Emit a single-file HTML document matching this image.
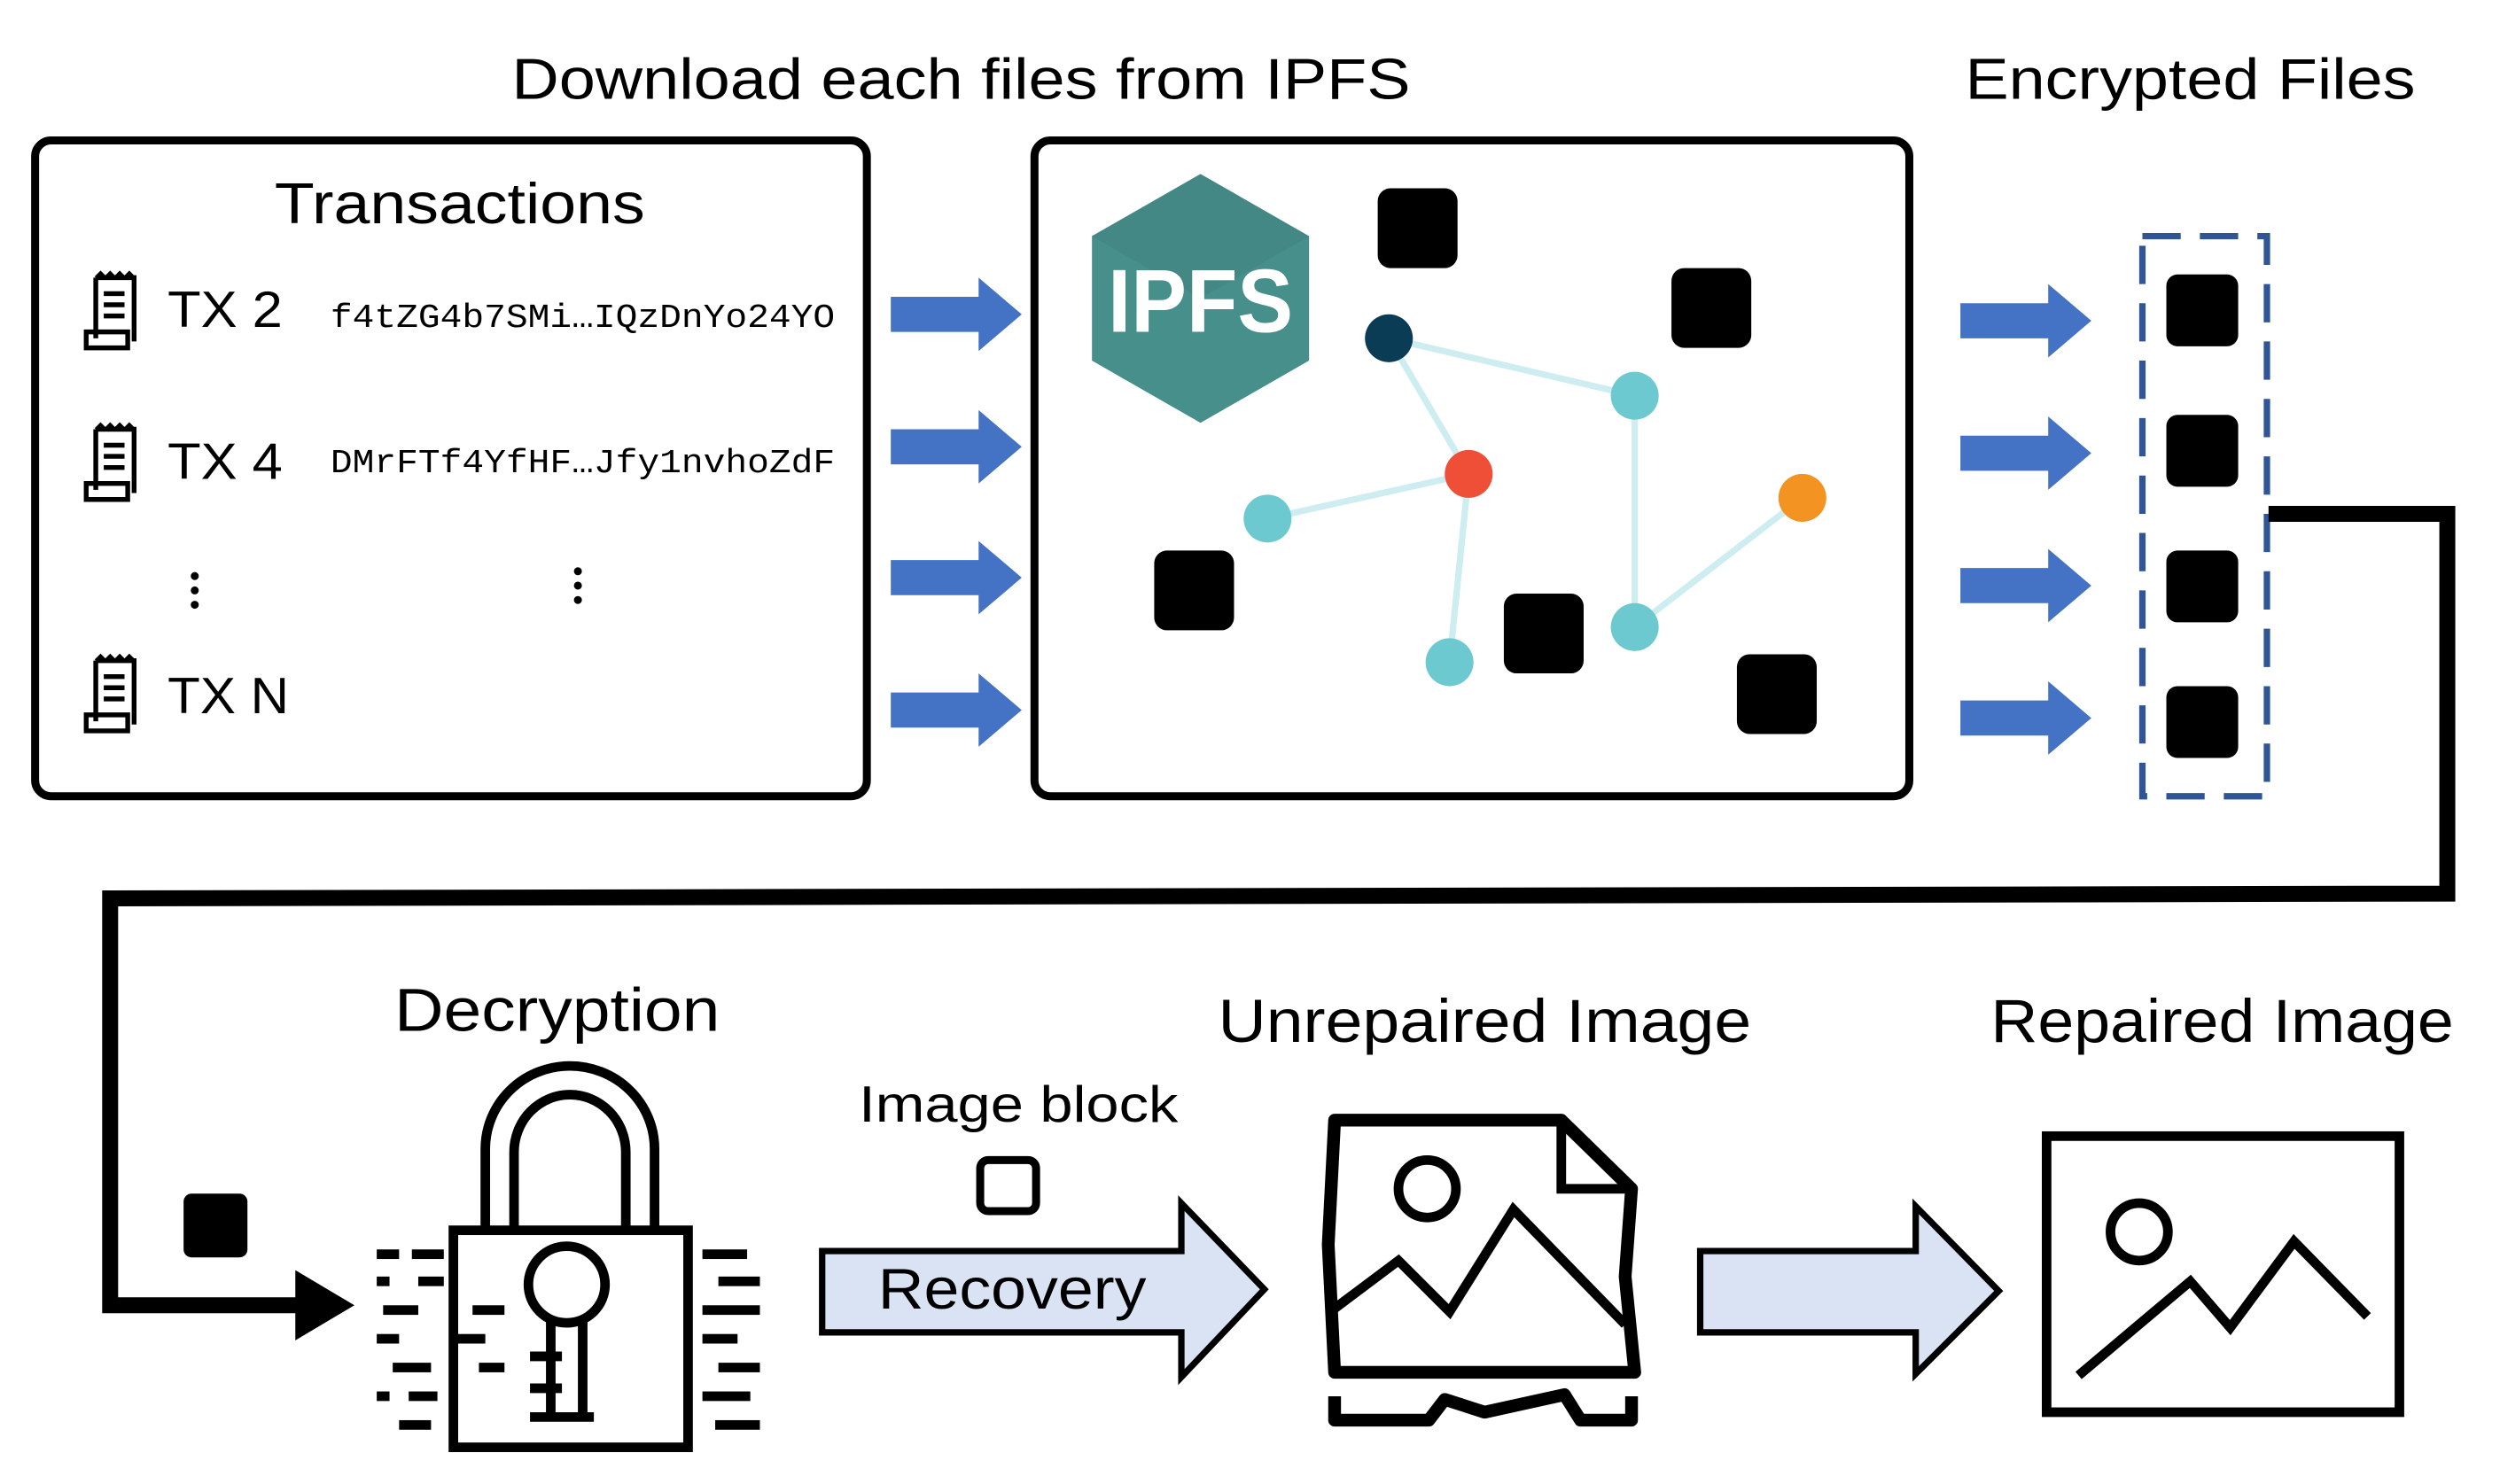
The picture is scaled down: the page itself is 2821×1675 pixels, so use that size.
<!DOCTYPE html>
<html><head><meta charset="utf-8"><style>html,body{margin:0;padding:0;background:#fff}svg{display:block}</style></head>
<body>
<svg width="2821" height="1675" viewBox="0 0 1566 930" preserveAspectRatio="none" xmlns="http://www.w3.org/2000/svg" font-family="Liberation Sans, sans-serif">
<rect width="1566" height="930" fill="#fff"/>
<defs>
<g id="ba"><polygon points="0,-11 55,-11 55,-23 82,0 55,23 55,11 0,11" fill="#4472C4"/></g>
<g id="rc"><path d="M8,4 h24 v40 M8,4 v38 M2,38 h26 v10 h-26 z" fill="none" stroke="#000" stroke-width="3"/><path d="M8,4 l3,-3 3,3 3,-3 3,3 3,-3 3,3 3,-3 3,3" fill="none" stroke="#000" stroke-width="2"/><path d="M13,14 h13 M13,21 h13 M13,28 h13" stroke="#000" stroke-width="3"/></g>
</defs>
<text x="602" y="62" font-size="36" text-anchor="middle" textLength="563" lengthAdjust="spacingAndGlyphs">Download each files from IPFS</text>
<text x="1372" y="62" font-size="36" text-anchor="middle" textLength="282" lengthAdjust="spacingAndGlyphs">Encrypted Files</text>
<rect x="22" y="88" width="521" height="411" rx="10" fill="none" stroke="#000" stroke-width="5"/>
<text x="288" y="140" font-size="36" text-anchor="middle" textLength="232" lengthAdjust="spacingAndGlyphs">Transactions</text>
<use href="#rc" x="52" y="170"/><use href="#rc" x="52" y="265"/><use href="#rc" x="52" y="410"/>
<text x="105" y="205" font-size="32" textLength="72" lengthAdjust="spacingAndGlyphs">TX 2</text>
<text x="207" y="205" font-size="21" font-family="Liberation Mono, monospace" textLength="316" lengthAdjust="spacingAndGlyphs">f4tZG4b7SMi…IQzDnYo24YO</text>
<text x="105" y="300" font-size="32" textLength="72" lengthAdjust="spacingAndGlyphs">TX 4</text>
<text x="207" y="296" font-size="21" font-family="Liberation Mono, monospace" textLength="316" lengthAdjust="spacingAndGlyphs">DMrFTf4YfHF…Jfy1nvhoZdF</text>
<text x="105" y="447" font-size="32" textLength="76" lengthAdjust="spacingAndGlyphs">TX N</text>
<g fill="#000"><circle cx="122" cy="361" r="2.5"/><circle cx="122" cy="370" r="2.5"/><circle cx="122" cy="379" r="2.5"/><circle cx="362" cy="358" r="2.5"/><circle cx="362" cy="367" r="2.5"/><circle cx="362" cy="376" r="2.5"/></g>
<use href="#ba" x="558" y="197"/><use href="#ba" x="558" y="280"/><use href="#ba" x="558" y="362"/><use href="#ba" x="558" y="445"/>
<rect x="648" y="88" width="548" height="411" rx="10" fill="none" stroke="#000" stroke-width="5"/>
<polygon points="752,109 820,148 820,226 752,265 684,226 684,148" fill="#468F8B"/>
<polygon points="752,109 820,148 752,187 684,148" fill="#3F827E" opacity="0.5"/>
<text x="752" y="208" font-size="56" font-weight="bold" fill="#fff" text-anchor="middle" textLength="116" lengthAdjust="spacingAndGlyphs">IPFS</text>
<g stroke="#CDEDF0" stroke-width="4"><line x1="870" y1="212" x2="1024" y2="248"/><line x1="870" y1="212" x2="920" y2="297"/><line x1="920" y1="297" x2="794" y2="325"/><line x1="920" y1="297" x2="908" y2="415"/><line x1="1024" y1="248" x2="1024" y2="393"/><line x1="1024" y1="393" x2="1129" y2="312"/></g>
<circle cx="870" cy="212" r="15" fill="#0B3C55"/><circle cx="1024" cy="248" r="15" fill="#6CC9CF"/><circle cx="920" cy="297" r="15" fill="#EF4F37"/><circle cx="794" cy="325" r="15" fill="#6CC9CF"/><circle cx="1129" cy="312" r="15" fill="#F39322"/><circle cx="1024" cy="393" r="15" fill="#6CC9CF"/><circle cx="908" cy="415" r="15" fill="#6CC9CF"/>
<g fill="#000"><rect x="863" y="118" width="50" height="50" rx="8"/><rect x="1047" y="168" width="50" height="50" rx="8"/><rect x="723" y="345" width="50" height="50" rx="8"/><rect x="942" y="372" width="50" height="50" rx="8"/><rect x="1088" y="410" width="50" height="50" rx="8"/></g>
<use href="#ba" x="1228" y="201"/><use href="#ba" x="1228" y="284"/><use href="#ba" x="1228" y="367"/><use href="#ba" x="1228" y="450"/>
<rect x="1342" y="148" width="78" height="351" fill="none" stroke="#2F5597" stroke-width="4" stroke-dasharray="24,12"/>
<g fill="#000"><rect x="1357" y="172" width="45" height="45" rx="7"/><rect x="1357" y="260" width="45" height="45" rx="7"/><rect x="1357" y="345" width="45" height="45" rx="7"/><rect x="1357" y="430" width="45" height="45" rx="7"/></g>
<polyline points="1421,322 1533,322 1533,560 69,563 69,818 190,818" fill="none" stroke="#000" stroke-width="10"/>
<polygon points="185,796 222,818 185,840" fill="#000"/>
<rect x="115" y="748" width="40" height="40" rx="5" fill="#000"/>
<text x="349" y="646" font-size="38" text-anchor="middle" textLength="204" lengthAdjust="spacingAndGlyphs">Decryption</text>
<path d="M304,770 V720 A53,52 0 0 1 410,720 V770 M322,770 V722 A35,36 0 0 1 392,722 V770" fill="none" stroke="#000" stroke-width="6"/>
<rect x="284" y="771" width="147" height="136" fill="none" stroke="#000" stroke-width="6"/>
<circle cx="355" cy="805" r="24" fill="none" stroke="#000" stroke-width="6"/>
<path d="M345,828 V890 M365,828 V890 M332,850 h20 M332,870 h20 M332,888 h40" stroke="#000" stroke-width="6" fill="none"/>
<g fill="#000"><rect x="236" y="783" width="14" height="6"/><rect x="258" y="783" width="20" height="6"/><rect x="440" y="783" width="28" height="6"/><rect x="236" y="800" width="8" height="6"/><rect x="262" y="800" width="16" height="6"/><rect x="450" y="800" width="26" height="6"/><rect x="240" y="818" width="22" height="6"/><rect x="296" y="818" width="20" height="6"/><rect x="440" y="818" width="36" height="6"/><rect x="236" y="836" width="14" height="6"/><rect x="286" y="836" width="18" height="6"/><rect x="440" y="836" width="22" height="6"/><rect x="246" y="854" width="24" height="6"/><rect x="300" y="854" width="16" height="6"/><rect x="450" y="854" width="26" height="6"/><rect x="236" y="872" width="8" height="6"/><rect x="256" y="872" width="18" height="6"/><rect x="440" y="872" width="30" height="6"/><rect x="250" y="890" width="20" height="6"/><rect x="448" y="890" width="28" height="6"/></g>
<text x="638" y="703" font-size="32" text-anchor="middle" textLength="200" lengthAdjust="spacingAndGlyphs">Image block</text>
<rect x="614" y="727" width="35" height="32" rx="5" fill="none" stroke="#000" stroke-width="5"/>
<polygon points="515,784 740,784 740,754 792,808 740,863 740,835 515,835" fill="#DAE3F3" stroke="#000" stroke-width="4"/>
<text x="550" y="820" font-size="36" textLength="168" lengthAdjust="spacingAndGlyphs">Recovery</text>
<text x="930" y="653" font-size="38" text-anchor="middle" textLength="334" lengthAdjust="spacingAndGlyphs">Unrepaired Image</text>
<path d="M836,702 H978 L1022,745 L1018,800 L1024,860 H836 L832,780 Z" fill="none" stroke="#000" stroke-width="8" stroke-linejoin="round"/>
<path d="M978,702 V745 H1022" fill="none" stroke="#000" stroke-width="6"/>
<path d="M836,875 V890 H895 L905,877 L930,885 L980,874 L990,890 H1022 V875" fill="none" stroke="#000" stroke-width="8" stroke-linejoin="round"/>
<circle cx="894" cy="745" r="18" fill="none" stroke="#000" stroke-width="6"/>
<polyline points="836,820 876,790 908,822 948,758 1018,830" fill="none" stroke="#000" stroke-width="6"/>
<polygon points="1065,784 1200,784 1200,756 1252,809 1200,861 1200,835 1065,835" fill="#DAE3F3" stroke="#000" stroke-width="4"/>
<text x="1392" y="653" font-size="38" text-anchor="middle" textLength="290" lengthAdjust="spacingAndGlyphs">Repaired Image</text>
<rect x="1282" y="712" width="221" height="173" fill="none" stroke="#000" stroke-width="6"/>
<circle cx="1340" cy="772" r="18" fill="none" stroke="#000" stroke-width="6"/>
<polyline points="1302,862 1372,803 1397,832 1437,778 1483,825" fill="none" stroke="#000" stroke-width="6"/>
</svg>
</body></html>
